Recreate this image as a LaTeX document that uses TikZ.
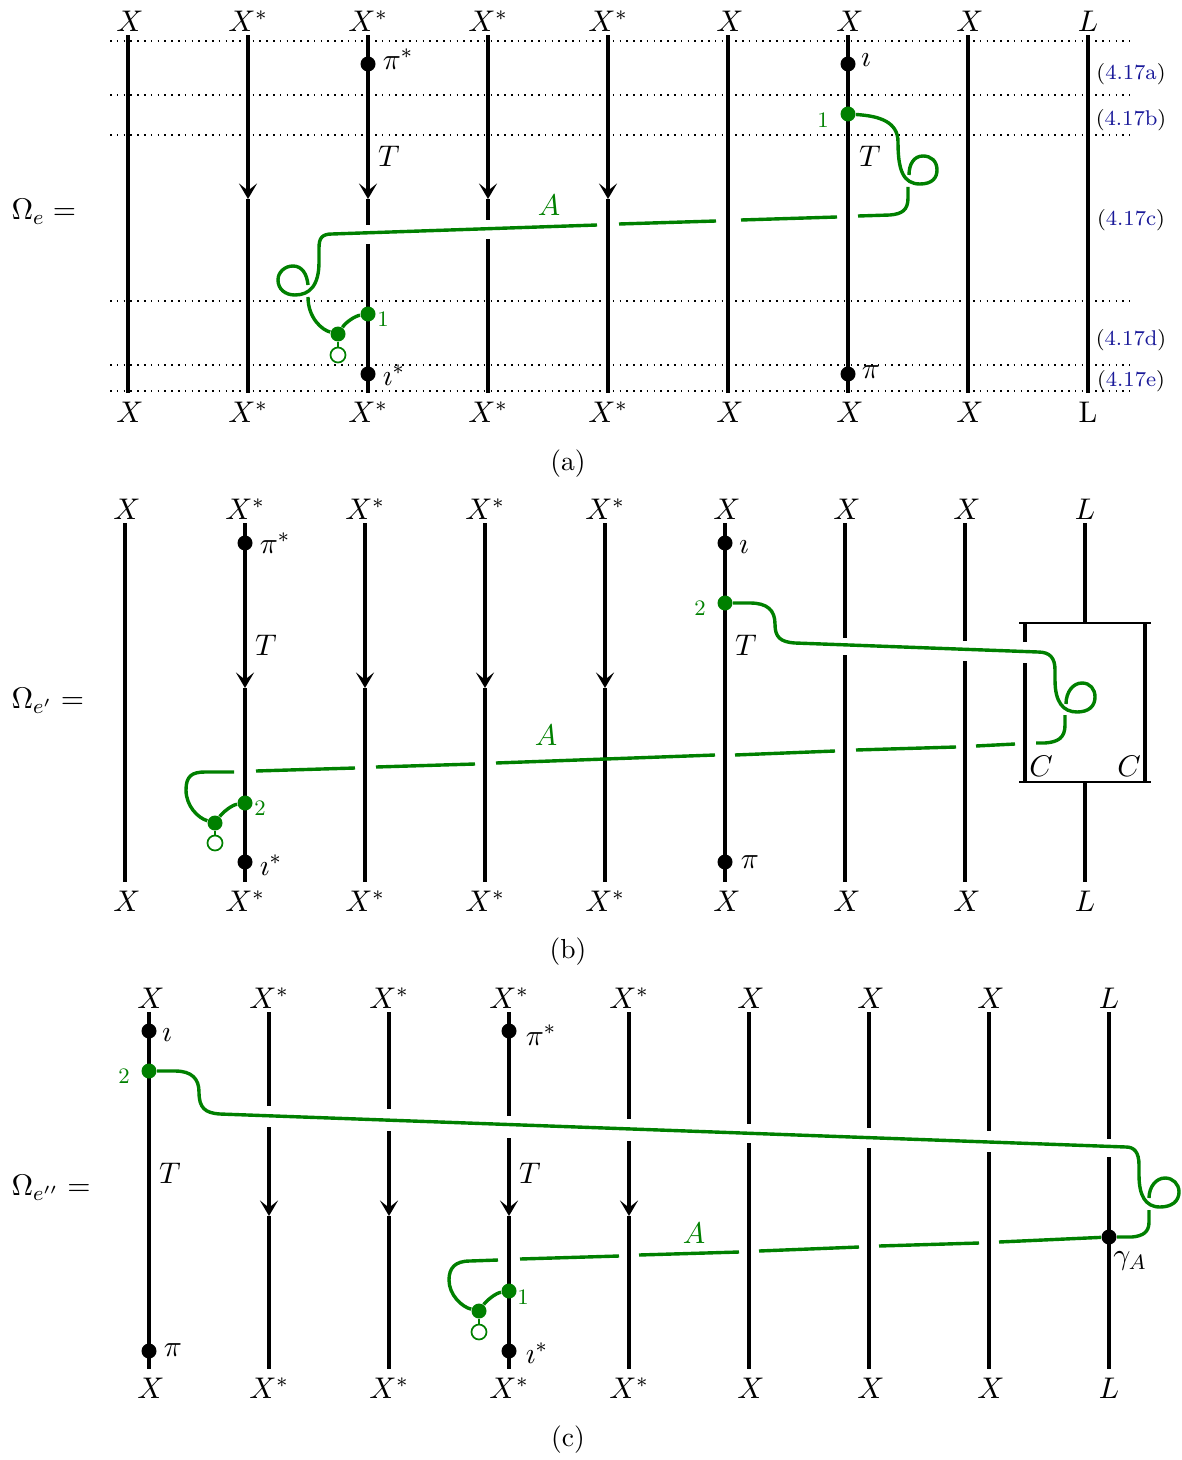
\documentclass[tikz,border=0pt]{standalone}
\usepackage{fix-cm}
\usetikzlibrary{arrows.meta}
\newlength{\du}
\setlength{\du}{0.385pt}
\definecolor{eqblue}{rgb}{0.1,0.1,0.6}
\definecolor{gline}{rgb}{0,0.5,0}
\newcommand{\eqlab}[1]{(\textcolor{eqblue}{#1})}
\newcommand{\lX}{\kern1.5pt X}
\newcommand{\mfont}{\fontsize{11.5pt}{14pt}\selectfont}
\tikzset{
  strand/.style={line width=3.7\du,black},
  tipstrand/.style={strand,-{Stealth[length=6pt,width=7pt,inset=2.8pt]}},
  boxline/.style={line width=2.2\du,black},
  sewline/.style={line width=3.4\du,gline},
  stemline/.style={line width=2.4\du,gline},
  dotline/.style={line width=1.6\du,dotted},
  toplab/.style={font=\mfont,inner sep=0pt,text height=8pt,text depth=0pt,outer sep=4\du},
  botlab/.style={font=\mfont,inner sep=0pt,text height=8pt,text depth=0pt,outer sep=8.6\du},
  bdot/.style={circle,fill=black,inner sep=0pt,minimum size=15\du},
  gdot/.style={circle,fill=gline,inner sep=0pt,minimum size=15\du},
  gopen/.style={circle,draw=gline,fill=white,line width=1.7\du,inner sep=0pt,minimum size=15\du},
  gnum/.style={text=gline,font=\fontsize{8.5pt}{10pt}\selectfont,inner sep=0pt},
  glab/.style={text=gline,font=\mfont,inner sep=0pt},
  txt/.style={font=\mfont,inner sep=0pt},
  captxt/.style={font=\fontsize{10.6pt}{13pt}\selectfont,inner sep=0pt},
  eqtxt/.style={font=\fontsize{8.2pt}{10pt}\selectfont,inner sep=0pt}
}
\begin{document}
\begin{tikzpicture}[x=\du,y=-\du]
\useasboundingbox (0,0) rectangle (1182,1460);
% panel a
\foreach \n/\xx/\lab/\lob in {1/128/\lX/\lX,2/248/X^*/X^*,3/368/X^*/X^*,4/488/X^*/X^*,5/608/X^*/X^*,6/728/\lX/\lX,7/848/\lX/\lX,8/968/\lX/\lX,9/1088/L/\mathrm{L}}{
  \node[toplab] (ta\n) at (\xx,21) {$\lab$};
  \node[botlab] (ba\n) at (\xx,412) {$\lob$};
  \coordinate (ma\n) at (\xx,199);
}
\foreach \y [count=\i] in {41,95,135,301,365,391}{
  \coordinate (dl\i) at (110,\y);
  \coordinate (dr\i) at (1130,\y);
  \draw[dotline] (dl\i) -- (dr\i);
}
\foreach \n in {1,6,7,8,9}{\draw[strand] (ta\n) -- (ba\n);}
\foreach \n in {2,5}{
  \draw[tipstrand] (ta\n) -- (ma\n);
  \draw[strand] (ma\n) -- (ba\n);
}
\foreach \n/\xx/\gu/\gl in {3/368/225/244,4/488/220/239}{
  \coordinate (ua\n) at (\xx,\gu);
  \coordinate (la\n) at (\xx,\gl);
  \draw[tipstrand] (ta\n) -- (ma\n);
  \draw[strand] (ma\n) -- (ua\n);
  \draw[strand] (la\n) -- (ba\n);
}
\node[bdot] (pia) at (368,64) {};
\node[bdot] (iotaa) at (368,374) {};
\node[bdot] (ia) at (848,64) {};
\node[bdot] (pa) at (848,374) {};
\node[gdot] (gra) at (848,114) {};
\node[gdot] (gla) at (368,314) {};
\node[gdot] (gma) at (338,334) {};
\node[gopen] (goa) at (338,355) {};
\draw[sewline] (gra) .. controls (880,116) and (898,122) .. (898,142) .. controls (898,170) and (903,184) .. (920,184) .. controls (932,184) and (937,178) .. (937,170) .. controls (937,161) and (931,156) .. (923,156) .. controls (914,156) and (909,164) .. (909,175);
\coordinate (sa1) at (837,217);
\coordinate (sa2) at (858,216);
\coordinate (sa3) at (741,220);
\coordinate (sa4) at (716,221);
\coordinate (sa5) at (619,224);
\coordinate (sa6) at (597,225);
\coordinate (sa7) at (308,285);
\coordinate (sa8) at (308,297);
\coordinate (sa9) at (908,187);
\draw[sewline] (sa9) -- (908,198) .. controls (908,210) and (902,214) .. (890,215) -- (sa2);
\draw[sewline] (sa1) -- (sa3);
\draw[sewline] (sa4) -- (sa5);
\draw[sewline] (sa6) -- (332,234) .. controls (322,234) and (319,238) .. (319,248) -- (319,262) .. controls (319,285) and (310,295) .. (295,295) .. controls (285,295) and (278,289) .. (278,280) .. controls (278,272) and (285,266) .. (293,266) .. controls (302,266) and (307,274) .. (sa7);
\draw[sewline] (sa8) .. controls (308,318) and (322,330) .. (gma);
\draw[sewline] (gma) .. controls (346,322) and (355,316) .. (gla);
\draw[stemline] (gma) -- (goa);
\node[txt] (pisa) at (398,59) {$\pi^*$};
\node[txt] (ita) at (866,60) {$\imath$};
\node[txt] (isa) at (394,375) {$\imath^*$};
\node[txt] (ppa) at (871,372) {$\pi$};
\node[txt] (tla) at (389,156) {$T$};
\node[txt] (tra) at (870,156) {$T$};
\node[glab] (aa) at (549,205) {$A$};
\node[gnum] (nra) at (823,120) {1};
\node[gnum] (nla) at (383,319) {1};
\node[eqtxt] (eqa) at (1131,74) {\eqlab{4.17a}};
\node[eqtxt] (eqb) at (1131,120) {\eqlab{4.17b}};
\node[eqtxt] (eqc) at (1131,220) {\eqlab{4.17c}};
\node[eqtxt] (eqd) at (1131,340) {\eqlab{4.17d}};
\node[eqtxt] (eqe) at (1131,381) {\eqlab{4.17e}};
\node[txt,anchor=west] (oma) at (11,212) {$\Omega_e=$};
\node[captxt] (capa) at (568,464) {(a)};
% panel b
\foreach \n/\xx/\lab in {1/125/\lX,2/245/X^*,3/365/X^*,4/485/X^*,5/605/X^*,6/725/\lX,7/845/\lX,8/965/\lX,9/1085/L}{
  \node[toplab] (tb\n) at (\xx,509) {$\lab$};
  \node[botlab] (bb\n) at (\xx,901) {$\lab$};
  \coordinate (mb\n) at (\xx,688);
}
\foreach \n in {1,6}{\draw[strand] (tb\n) -- (bb\n);}
\foreach \n in {2,3,4,5}{
  \draw[tipstrand] (tb\n) -- (mb\n);
  \draw[strand] (mb\n) -- (bb\n);
}
\foreach \n/\xx/\gu/\gl in {7/845/638/655,8/965/641/661}{
  \coordinate (ub\n) at (\xx,\gu);
  \coordinate (lb\n) at (\xx,\gl);
  \draw[strand] (tb\n) -- (ub\n);
  \draw[strand] (lb\n) -- (bb\n);
}
\coordinate (boxtl) at (1019,623);
\coordinate (boxtr) at (1151,623);
\coordinate (boxbl) at (1019,782);
\coordinate (boxbr) at (1151,782);
\coordinate (boxtm) at (1085,623);
\coordinate (boxbm) at (1085,782);
\coordinate (cltop) at (1025,623);
\coordinate (clgu) at (1025,642);
\coordinate (clgl) at (1025,663);
\coordinate (clbot) at (1025,782);
\coordinate (crtop) at (1145,623);
\coordinate (crbot) at (1145,782);
\draw[boxline] (boxtl) -- (boxtr);
\draw[boxline] (boxbl) -- (boxbr);
\draw[strand] (tb9) -- (boxtm);
\draw[strand] (boxbm) -- (bb9);
\draw[strand] (cltop) -- (clgu);
\draw[strand] (clgl) -- (clbot);
\draw[strand] (crtop) -- (crbot);
\node[bdot] (pib) at (245,543) {};
\node[bdot] (iotab) at (245,862) {};
\node[bdot] (ib) at (725,543) {};
\node[bdot] (pb) at (725,862) {};
\node[gdot] (grb) at (725,603) {};
\node[gdot] (glb) at (245,803) {};
\node[gdot] (gmb) at (215,823) {};
\node[gopen] (gob) at (215,843) {};
\draw[sewline] (grb) -- (750,603) .. controls (767,603) and (775,610) .. (775,624) .. controls (775,637) and (780,642) .. (795,643) -- (1038,652) .. controls (1050,652) and (1055,658) .. (1055,670) -- (1055,680) .. controls (1055,702) and (1063,712) .. (1077,712) .. controls (1089,712) and (1095,706) .. (1095,697) .. controls (1095,689) and (1090,683) .. (1082,683) .. controls (1073,683) and (1066,692) .. (1066,704);
\foreach \i/\xx/\yy in {1/1065/715,2/1036/743,3/1015/744,4/976/746,5/956/747,6/856/750,7/835/751,8/735/755,9/715/755,10/496/763,11/475/764,12/376/767,13/355/768,14/256/771,15/234/772}{
  \coordinate (sb\i) at (\xx,\yy);
}
\draw[sewline] (sb1) -- (1065,725) .. controls (1065,738) and (1058,742) .. (1045,743) -- (sb2);
\draw[sewline] (sb3) -- (sb4);
\draw[sewline] (sb5) -- (sb6);
\draw[sewline] (sb7) -- (sb8);
\draw[sewline] (sb9) -- (sb10);
\draw[sewline] (sb11) -- (sb12);
\draw[sewline] (sb13) -- (sb14);
\draw[sewline] (sb15) -- (205,772) .. controls (192,772) and (186,776) .. (186,790) .. controls (186,806) and (198,818) .. (gmb);
\draw[sewline] (gmb) .. controls (223,812) and (232,805) .. (glb);
\draw[stemline] (gmb) -- (gob);
\node[txt] (pisb) at (275,543) {$\pi^*$};
\node[txt] (itb) at (744,547) {$\imath$};
\node[txt] (isb) at (271,865) {$\imath^*$};
\node[txt] (ppb) at (750,862) {$\pi$};
\node[txt] (tlb) at (266,645) {$T$};
\node[txt] (trb) at (746,645) {$T$};
\node[txt] (cla) at (1041,766) {$C$};
\node[txt] (clb) at (1129,766) {$C$};
\node[glab] (ab) at (546,735) {$A$};
\node[gnum] (nrb) at (700,608) {2};
\node[gnum] (nlb) at (260,808) {2};
\node[txt,anchor=west] (omb) at (11,701) {$\Omega_{e'}=$};
\node[captxt] (capb) at (568,952) {(b)};
% panel c
\foreach \n/\xx/\lab in {1/149/\lX,2/269/X^*,3/389/X^*,4/509/X^*,5/629/X^*,6/749/\lX,7/869/\lX,8/989/\lX,9/1109/L}{
  \node[toplab] (tc\n) at (\xx,998) {$\lab$};
  \node[botlab] (bc\n) at (\xx,1388) {$\lab$};
  \coordinate (mc\n) at (\xx,1216);
}
\draw[strand] (tc1) -- (bc1);
\foreach \n/\xx/\gu/\gl in {2/269/1106/1127,3/389/1109/1131,4/509/1116/1138,5/629/1119/1141,6/749/1124/1143,7/869/1128/1148,8/989/1131/1152,9/1109/1139/1157}{
  \coordinate (uc\n) at (\xx,\gu);
  \coordinate (lc\n) at (\xx,\gl);
  \draw[strand] (tc\n) -- (uc\n);
}
\foreach \n in {2,3,4,5}{
  \draw[tipstrand] (lc\n) -- (mc\n);
  \draw[strand] (mc\n) -- (bc\n);
}
\foreach \n in {6,7,8,9}{\draw[strand] (lc\n) -- (bc\n);}
\node[bdot] (ic) at (149,1031) {};
\node[bdot] (pc) at (149,1351) {};
\node[bdot] (pic) at (509,1031) {};
\node[bdot] (iotac) at (509,1351) {};
\node[bdot] (gam) at (1109,1237) {};
\node[gdot] (grc) at (149,1071) {};
\node[gdot] (glc) at (509,1291) {};
\node[gdot] (gmc) at (479,1311) {};
\node[gopen] (goc) at (479,1332) {};
\draw[sewline] (grc) -- (175,1071) .. controls (192,1071) and (199,1079) .. (199,1092) .. controls (199,1108) and (205,1113) .. (220,1114) -- (1126,1147) .. controls (1134,1147) and (1139,1152) .. (1139,1165) -- (1139,1175) .. controls (1139,1195) and (1145,1207) .. (1160,1207) .. controls (1172,1207) and (1179,1201) .. (1179,1192) .. controls (1179,1184) and (1173,1178) .. (1165,1178) .. controls (1156,1178) and (1149,1187) .. (1149,1198);
\foreach \i/\xx/\yy in {1/1149/1210,2/999/1242,3/979/1243,4/879/1246,5/859/1247,6/759/1251,7/739/1252,8/639/1255,9/619/1256,10/520/1259,11/498/1260}{
  \coordinate (sc\i) at (\xx,\yy);
}
\draw[sewline] (sc1) -- (1149,1222) .. controls (1149,1232) and (1143,1236) .. (1132,1237) -- (gam);
\draw[sewline] (gam) -- (sc2);
\draw[sewline] (sc3) -- (sc4);
\draw[sewline] (sc5) -- (sc6);
\draw[sewline] (sc7) -- (sc8);
\draw[sewline] (sc9) -- (sc10);
\draw[sewline] (sc11) -- (470,1261) .. controls (455,1261) and (449,1268) .. (449,1280) .. controls (449,1295) and (462,1307) .. (gmc);
\draw[sewline] (gmc) .. controls (487,1300) and (496,1293) .. (glc);
\draw[stemline] (gmc) -- (goc);
\node[txt] (itc) at (167,1035) {$\imath$};
\node[txt] (ppc) at (173,1350) {$\pi$};
\node[txt] (pisc) at (541,1035) {$\pi^*$};
\node[txt] (isc) at (537,1353) {$\imath^*$};
\node[txt] (tlc) at (170,1173) {$T$};
\node[txt] (trc) at (530,1173) {$T$};
\node[txt] (gac) at (1130,1261) {$\gamma_A$};
\node[glab] (ac) at (694,1233) {$A$};
\node[gnum] (nrc) at (124,1076) {2};
\node[gnum] (nlc) at (523,1297) {1};
\node[txt,anchor=west] (omc) at (11,1188) {$\Omega_{e''}=$};
\node[captxt] (capc) at (568,1440) {(c)};
\end{tikzpicture}
\end{document}
